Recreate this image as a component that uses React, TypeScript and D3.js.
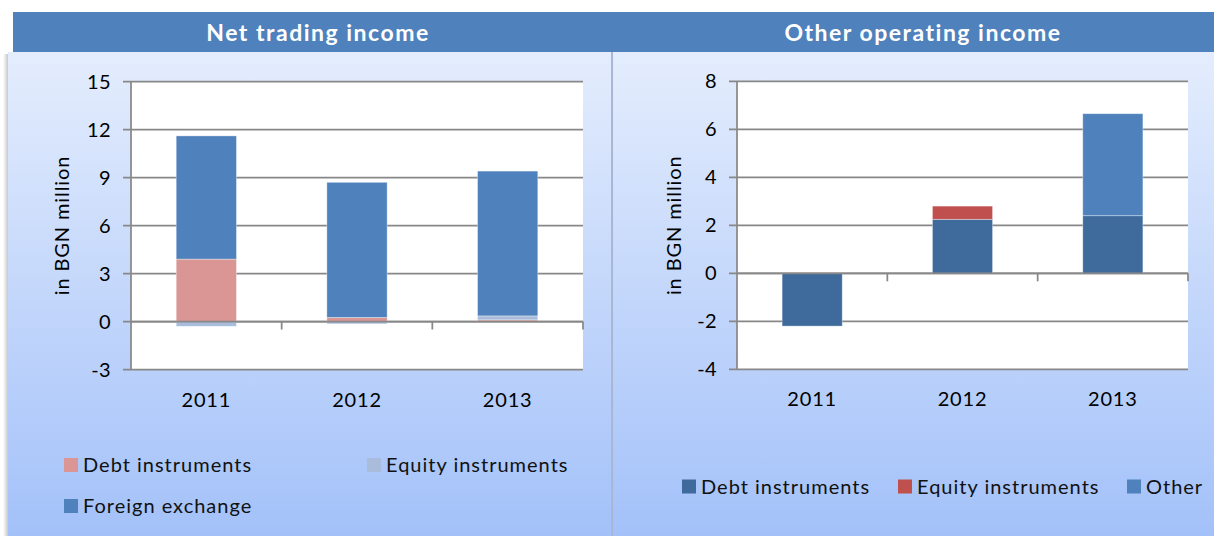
import React from "react";
import * as d3 from "d3";

const YEARS = ["2011", "2012", "2013"];

const NTI_SERIES = ["Debt instruments", "Equity instruments", "Foreign exchange"];
const NTI_COLORS = ["#D99694", "#A9BCDC", "#4F81BD"];
const NTI_DEBT = [3.9, 0.25, 0.1];
const NTI_EQUITY = [-0.3, -0.15, 0.25];
const NTI_FX = [7.7, 8.45, 9.05];
const NTI_TICKS = [-3, 0, 3, 6, 9, 12, 15];

const OOI_SERIES = ["Debt instruments", "Equity instruments", "Other"];
const OOI_COLORS = ["#3F6A9C", "#C0504D", "#4F81BD"];
const OOI_DEBT = [-2.2, 2.25, 2.4];
const OOI_EQUITY = [0, 0.55, 0];
const OOI_OTHER = [0, 0, 4.25];
const OOI_TICKS = [-4, -2, 0, 2, 4, 6, 8];

const FONT = "Lato, 'Open Sans', sans-serif";
const FS = 20;
const LS = 0.9;

type PanelProps = {
  plot: { x0: number; x1: number; y0: number; y1: number };
  ticks: number[];
  names: string[];
  colors: string[];
  values: number[][];
  legend: { x: number; y: number }[];
  axisTitleX: number;
};

function Panel(p: PanelProps) {
  const { plot } = p;
  const x = d3.scaleBand<string>().domain(YEARS).range([plot.x0, plot.x1]).padding(0);
  const y = d3
    .scaleLinear()
    .domain([p.ticks[0], p.ticks[p.ticks.length - 1]])
    .range([plot.y1, plot.y0]);
  const rows = YEARS.map((yr, i) => {
    const r: any = { year: yr };
    p.names.forEach((n, k) => (r[n] = p.values[k][i]));
    return r;
  });
  const stacked = d3.stack<any>().keys(p.names).offset(d3.stackOffsetDiverging)(rows);
  const bw = x.bandwidth() * 0.4;
  const zero = y(0);
  const midY = (plot.y0 + plot.y1) / 2;
  return (
    <g>
      <rect x={plot.x0} y={plot.y0} width={plot.x1 - plot.x0} height={plot.y1 - plot.y0} fill="#fff" />
      {p.ticks.map((t) => (
        <g key={t}>
          <line x1={plot.x0 - 8} x2={plot.x1} y1={y(t)} y2={y(t)} stroke="#888" strokeWidth={1.75} />
          <text x={plot.x0 - 20} y={y(t)} dy="0.35em" textAnchor="end" fontSize={FS} fontFamily={FONT} fill="#000" letterSpacing={0.4}>
            {t}
          </text>
        </g>
      ))}
      <line x1={plot.x0} x2={plot.x0} y1={plot.y0} y2={plot.y1} stroke="#888" strokeWidth={1.75} />
      {stacked.map((s, k) =>
        s.map((d, i) => {
          const v0 = d[0], v1 = d[1];
          if (v0 === v1) return null;
          const xc = (x(YEARS[i]) as number) + x.bandwidth() / 2;
          return (
            <rect
              key={k + "-" + i}
              x={xc - bw / 2}
              y={y(Math.max(v0, v1))}
              width={bw}
              height={Math.abs(y(v0) - y(v1))}
              fill={p.colors[k]}
              stroke="#ffffff"
              strokeOpacity={0.45}
              strokeWidth={0.8}
            />
          );
        })
      )}
      <line x1={plot.x0} x2={plot.x1} y1={zero} y2={zero} stroke="#888" strokeWidth={1.75} />
      {YEARS.map((yr) => (
        <line
          key={yr}
          x1={(x(yr) as number) + x.bandwidth()}
          x2={(x(yr) as number) + x.bandwidth()}
          y1={zero}
          y2={zero + 8}
          stroke="#888"
          strokeWidth={1.75}
        />
      ))}
      {YEARS.map((yr) => (
        <text
          key={yr}
          x={(x(yr) as number) + x.bandwidth() / 2}
          y={plot.y1 + 37}
          textAnchor="middle"
          fontSize={FS}
          fontFamily={FONT}
          fill="#000"
          letterSpacing={0.8}
        >
          {yr}
        </text>
      ))}
      <text
        transform={`translate(${p.axisTitleX},${midY}) rotate(-90)`}
        textAnchor="middle"
        fontSize={FS}
        fontFamily={FONT}
        fill="#000"
        letterSpacing={LS}
      >
        in BGN million
      </text>
      {p.names.map((n, k) => (
        <g key={n}>
          <rect x={p.legend[k].x} y={p.legend[k].y - 7} width={14} height={14} fill={p.colors[k]} />
          <text x={p.legend[k].x + 19} y={p.legend[k].y} dy="0.35em" fontSize={FS} fontFamily={FONT} fill="#111" letterSpacing={1.0}>
            {n}
          </text>
        </g>
      ))}
    </g>
  );
}

export default function App() {
  const W = 1214, H = 536;
  return (
    <svg width={W} height={H} style={{ position: "absolute", left: 0, top: 0, background: "#fff" }}>
      <defs>
        <linearGradient id="bg" x1="0" y1="0" x2="0" y2="1">
          <stop offset="0" stopColor="#E4EDFD" />
          <stop offset="1" stopColor="#A3C1F9" />
        </linearGradient>
        <linearGradient id="shL" x1="0" y1="0" x2="1" y2="0">
          <stop offset="0" stopColor="#ffffff" />
          <stop offset="1" stopColor="#C8C8CC" />
        </linearGradient>
        <linearGradient id="shM" x1="0" y1="0" x2="1" y2="0">
          <stop offset="0" stopColor="#9AAACC" />
          <stop offset="1" stopColor="#8A9CC4" />
        </linearGradient>
      </defs>
      <rect x={3} y={54} width={5} height={H - 54} fill="url(#shL)" />
      <rect x={8} y={52} width={603} height={H - 52} fill="url(#bg)" />
      <rect x={611} y={52} width={2.5} height={H - 52} fill="url(#shM)" opacity={0.8} />
      <rect x={613} y={52} width={W - 613} height={H - 52} fill="url(#bg)" />
      <rect x={13} y={12} width={W - 13} height={40} fill="#4F81BD" />
      <text x={318} y={40.5} textAnchor="middle" fontSize={23} fontWeight="bold" fontFamily={FONT} fill="#fff" letterSpacing={1.5}>
        Net trading income
      </text>
      <text x={923} y={40.5} textAnchor="middle" fontSize={23} fontWeight="bold" fontFamily={FONT} fill="#fff" letterSpacing={1.5}>
        Other operating income
      </text>
      <Panel
        plot={{ x0: 131, x1: 583, y0: 81.5, y1: 369.5 }}
        ticks={NTI_TICKS}
        names={NTI_SERIES}
        colors={NTI_COLORS}
        values={[NTI_DEBT, NTI_EQUITY, NTI_FX]}
        legend={[
          { x: 64, y: 465 },
          { x: 367, y: 465 },
          { x: 64, y: 506 },
        ]}
        axisTitleX={69}
      />
      <Panel
        plot={{ x0: 737, x1: 1188, y0: 81.3, y1: 369.3 }}
        ticks={OOI_TICKS}
        names={OOI_SERIES}
        colors={OOI_COLORS}
        values={[OOI_DEBT, OOI_EQUITY, OOI_OTHER]}
        legend={[
          { x: 682, y: 486.5 },
          { x: 898, y: 486.5 },
          { x: 1127, y: 486.5 },
        ]}
        axisTitleX={681}
      />
    </svg>
  );
}
